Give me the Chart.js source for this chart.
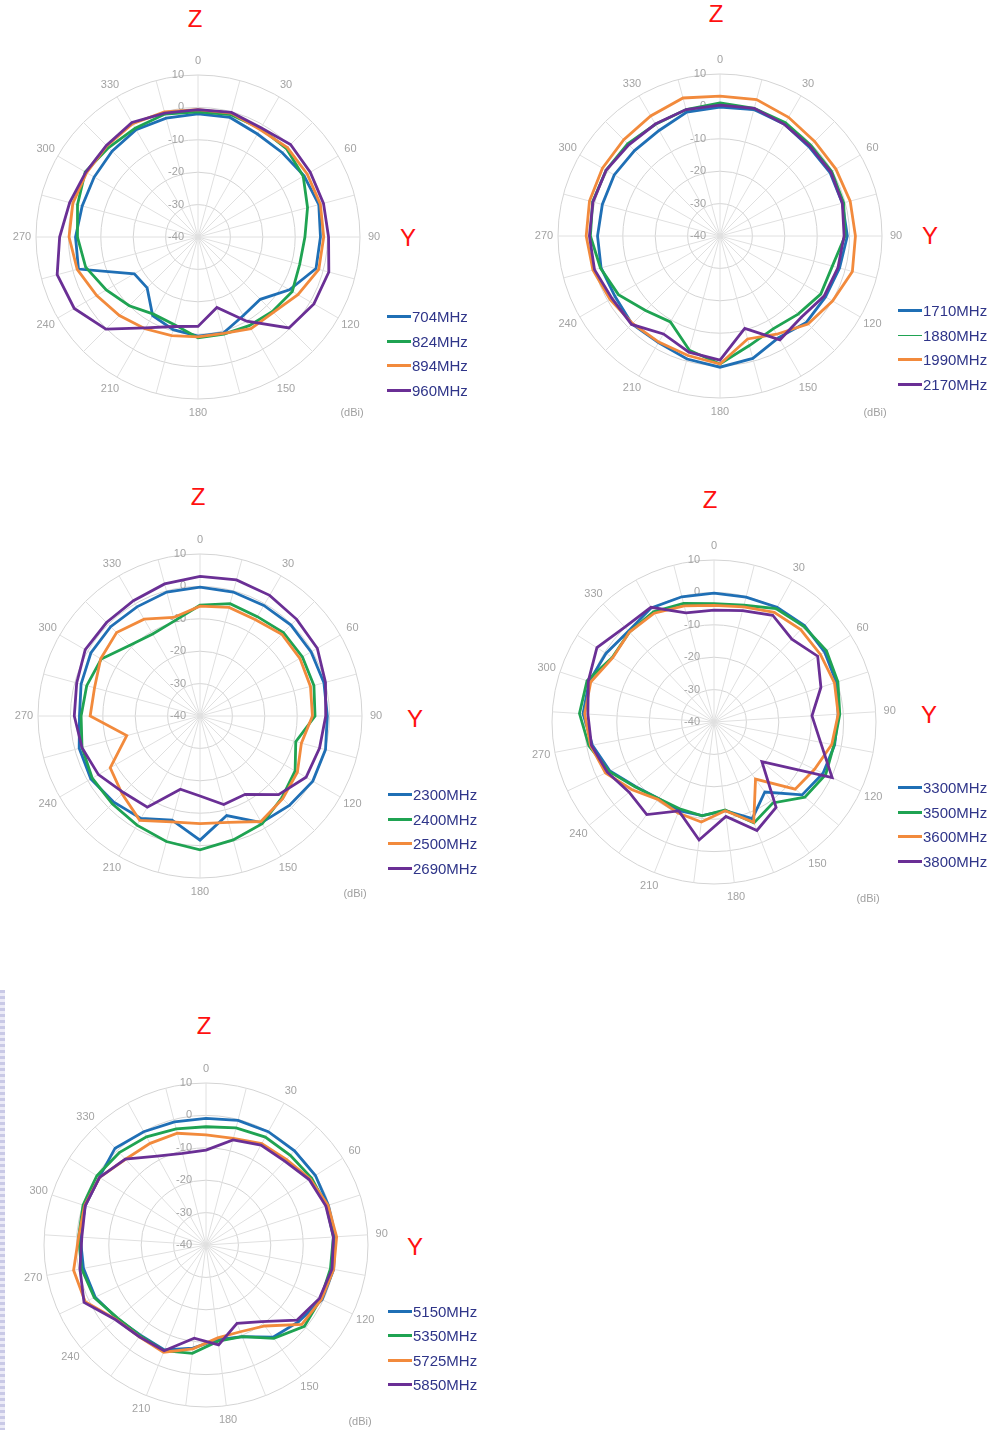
<!DOCTYPE html>
<html>
<head>
<meta charset="utf-8">
<title>Radiation patterns</title>
<script src="https://cdn.jsdelivr.net/npm/chart.js@4.4.1/dist/chart.umd.min.js"></script>
<style>
  body { margin: 0; background: #fff; font-family: Arial, "Liberation Sans", sans-serif; }
  #page { position: relative; width: 998px; height: 1430px; overflow: hidden; background: #fff; }
  canvas.polar { position: absolute; }
  .axis-name { position: absolute; color: #ff1010; font-size: 24px; line-height: 1; transform: translate(-50%, -50%); }
  .unit { position: absolute; color: #a0a0a0; font-size: 11px; transform: translate(-50%, -50%); }
  .legend { position: absolute; }
  .legend-row { height: 24.4px; display: flex; align-items: center; }
  .legend-line { width: 24px; height: 3px; margin-right: 1px; }
  .legend-text { color: #2f3589; font-size: 15px; }
  .edge { position: absolute; left: 0; top: 990px; width: 5px; height: 440px;
          background: repeating-linear-gradient(#c9c9e6 0 3px, #ecebf7 3px 6px); }
</style>
</head>
<body>
<div id="page">
  <div class="edge"></div>
</div>
<script>
// Angle categories, one every 15 degrees
const anglesOpen = ['0','15','30','45','60','75','90','105','120','135','150','165',
                    '180','195','210','225','240','255','270','285','300','315','330','345'];
const anglesClosed = [...anglesOpen, '360'];
const rangeTicks = [10, 0, -10, -20, -30, -40];

// 700-960 MHz (dBi)
const band1Names = ['704MHz', '824MHz', '894MHz', '960MHz'];
const gain704 = [-2, -1.8, -3.3, -3.2, -2.2, -1.4, -2.2, -2.3, -7.4, -12.8, -12, -9.4, -9.4, -10.4, -12, -17.8, -17.3, -1.8, -2.2, -3, -3, -2.5, -1.8, -2];
const gain824 = [-1.4, -0.9, -1.3, -1.4, -2.5, -5, -7, -7.5, -6.4, -7.5, -8.4, -9, -8.9, -12, -12.5, -10, -7.3, -4.1, -2.8, -1.5, 0.2, -1, -1.2, -0.7];
const gain894 = [-0.7, -0.4, -1.7, -1, -1.1, -0.9, -1.2, -1.4, -4.4, -7.1, -7.3, -9.2, -9.2, -8.5, -7.3, -5.7, -3.9, -1.4, -0.2, 0, -0.3, -0.2, 0.4, 0];
const gain960 = [-0.7, -0.2, -1.1, 0.4, 0, 0.1, 0.3, 1.8, 1.3, -0.3, -10, -17.5, -12.4, -11.4, -7.6, 0.2, 4.1, 5, 2.7, 1, 0, 0, 0.8, -0.4];

// 1710-2170 MHz (dBi)
const band2Names = ['1710MHz', '1880MHz', '1990MHz', '2170MHz'];
const gain1710 = [-0.2, 0.4, -0.2, -1.1, -0.8, -0.9, -0.7, -1.8, -2.4, -2.3, -3.8, -0.9, 0.5, -0.7, -2, -1.6, -2.6, -2, -2.2, -2.4, -2.3, -2.7, -2.4, -0.4];
const gain1880 = [1.1, 0.8, 0.4, -0.4, -0.2, -0.5, -1.4, -4.1, -4.1, -5.9, -7, -5, -0.5, -3.5, -9.4, -7.5, -3.8, -1.8, 0, 0.7, 0.6, 0.3, -0.2, 0.4];
const gain1990 = [3.2, 3.6, 2.3, 1.3, 1.3, 1.6, 1.8, 2.3, 0.1, -1.6, -5, -7.1, -0.5, -1.8, -2.2, -1.8, -0.8, 0.6, 1.3, 1.7, 1.9, 2, 2.8, 4.1];
const gain2170 = [0.4, 0.8, -0.2, -0.8, -0.5, -0.9, -1.7, -2.3, -2.9, -4.5, -3, -10.5, -1.7, -2.9, -5.1, -1.4, -1.5, 0.1, 0.3, 0.6, 0.6, -0.2, -0.1, 0.4];

// 2300-2690 MHz (dBi)
const band3Names = ['2300MHz', '2400MHz', '2500MHz', '2690MHz'];
const gain2300 = [-0.2, -0.4, -0.6, -0.3, -0.4, -0.4, -0.7, 0.1, 0.2, -1, -2, -8.2, -1.7, -6.7, -3.5, -2.4, -1.1, -1.4, -2.8, -2, -1.1, -1, -1.1, -0.4];
const gain2400 = [-5.8, -4.1, -4.6, -3.6, -3.5, -3.6, -4.5, -9.4, -6.1, -4.3, -1.6, -0.4, 1.3, 0.1, -1.1, -1.7, -1.6, -2.3, -3.3, -3.8, -4.8, -9.2, -10.8, -9.6];
const gain2500 = [-6.1, -5.3, -5.7, -4.3, -4.4, -4.7, -5.3, -7.6, -5.3, -3.9, -2.4, -6, -6.8, -6.2, -2.8, -6, -8, -16.6, -6.1, -6.3, -4.6, -3.6, -5.5, -8.5];
const gain2690 = [3.1, 3.5, 3, 2.2, 1.8, 0.1, -1.2, -1.8, -2.2, -5.7, -12.1, -11.7, -15.3, -16.6, -7.5, -6.6, -3.8, -2.3, -1.2, -0.6, 0.9, 0.8, 1.1, 2.2];

// 3300-3800 MHz (dBi), 0..360 closed
const band4Names = ['3300MHz', '3500MHz', '3600MHz', '3800MHz'];
const gain3300 = [-0.2, -0.2, 0.4, 0.8, 0.4, -0.3, -1.6, -2.1, -2.8, -4.7, -13.3, -7.9, -12.4, -10.9, -10.6, -10.8, -8.7, -4.5, -1.8, 0.5, 0.5, -0.5, -1.5, 0.2, -0.1];
const gain3500 = [-3.5, -2.8, -0.1, 0.5, 1.1, 0.2, -1.1, -2.3, -1.9, -3.6, -9.1, -6.5, -12.6, -10.8, -11.2, -10.8, -8.5, -4.2, -0.7, 1.6, 1.2, -2.8, -1.9, -1.2, -2.2];
const gain3600 = [-4, -3.3, -1.4, -0.9, -1.1, -0.9, -1.6, -3, -5.7, -7.5, -18.2, -6.7, -12.4, -8.9, -9.8, -10.5, -7.2, -3, -1.2, 0, 0, -3, -1.9, -1.7, -3];
const gain3800 = [-5.5, -4.5, -2.4, -4.9, -2.1, -5.3, -9.7, -6.5, 0.3, -20.8, -7.4, -4, -10.6, -3.3, -10.5, -4.7, -6, -3.6, -1.5, -1, 0.8, 2.8, 0.2, 0.4, -5.2];

// 5150-5850 MHz (dBi), 0..360 closed
const band5Names = ['5150MHz', '5350MHz', '5725MHz', '5850MHz'];
const gain5150 = [-0.9, -0.3, -0.1, -0.1, 0, -0.3, 0, 0.1, -0.4, -2.9, -4.8, -9.6, -10.6, -7.9, -5.2, -5.6, -4.4, -2.2, -1.5, -1.1, -0.8, -1, 1, -0.1, -0.8];
const gain5350 = [-3.5, -2.7, -2, -2, -1.4, -0.9, -0.6, -0.9, -0.9, -0.6, -4.4, -9.6, -10.1, -6.3, -4.9, -5.4, -4.6, -1.9, -0.9, -0.6, -0.1, -0.1, -0.9, -1.9, -3];
const gain5725 = [-6, -6, -4.3, -3.8, -1.9, -0.4, 0.4, 0.1, -0.6, -1.6, -9.1, -11.2, -11.1, -7.7, -4.4, -5, -4, 1.2, 1.6, -0.6, -0.6, -1.1, -3.7, -4.2, -4.4];
const gain5850 = [-10.7, -6.5, -4.8, -4.5, -2.3, -1.1, -0.6, -0.4, -1.3, -3.6, -10.8, -14, -8.9, -11, -4.9, -5, -3.8, 1.6, -0.4, -1.6, -0.8, -1.1, -3.6, -8.7, -10.8];

// Line colours, shared by every plot
const seriesColors = ['#1f6fb5', '#1fa352', '#f28a3c', '#6a2f95'];

// Where each plot sits on the page
const plots = [
  { angles: anglesOpen, names: band1Names, series: [gain704, gain824, gain894, gain960],
    center: [198, 237], z: [195, 19], y: [408, 238], legend: [387, 317], unit: [352, 412] },
  { angles: anglesOpen, names: band2Names, series: [gain1710, gain1880, gain1990, gain2170],
    center: [720, 236], z: [716, 14], y: [930, 236], legend: [898, 311], unit: [875, 412], thinGreen: true },
  { angles: anglesOpen, names: band3Names, series: [gain2300, gain2400, gain2500, gain2690],
    center: [200, 716], z: [198, 497], y: [415, 719], legend: [388, 795], unit: [355, 893] },
  { angles: anglesClosed, names: band4Names, series: [gain3300, gain3500, gain3600, gain3800],
    center: [714, 722], z: [710, 500], y: [929, 715], legend: [898, 788], unit: [868, 898] },
  { angles: anglesClosed, names: band5Names, series: [gain5150, gain5350, gain5725, gain5850],
    center: [206, 1245], z: [204, 1026], y: [415, 1247], legend: [388, 1311.5], unit: [360, 1421] }
];

const RADIUS = 162;
const CANVAS = 400;

// Angle labels every 30 degrees and dB labels left of the 0 degree spoke
const polarText = {
  id: 'polarText',
  beforeDatasetsDraw(chart) {
    const scale = chart.scales.r;
    const ctx = chart.ctx;
    ctx.save();
    ctx.font = '11px Arial, "Liberation Sans", sans-serif';
    ctx.fillStyle = '#a3a3a3';
    ctx.textBaseline = 'middle';
    ctx.textAlign = 'center';
    chart.data.labels.forEach((label, i) => {
      if (Number(label) % 30 !== 0 || label === '360') return;
      const p = scale.getPointPosition(i, scale.drawingArea + 14);
      ctx.fillText(label, p.x, p.y);
    });
    ctx.textAlign = 'right';
    rangeTicks.forEach(v => {
      const d = scale.getDistanceFromCenterForValue(v);
      ctx.fillText(String(v), scale.xCenter - 14, scale.yCenter - d);
    });
    ctx.restore();
  }
};

function addText(cls, text, pos) {
  const el = document.createElement('div');
  el.className = cls;
  el.textContent = text;
  el.style.left = pos[0] + 'px';
  el.style.top = pos[1] + 'px';
  document.getElementById('page').appendChild(el);
}

function addLegend(plot) {
  const box = document.createElement('div');
  box.className = 'legend';
  box.style.left = plot.legend[0] + 'px';
  box.style.top = (plot.legend[1] - 12.2) + 'px';
  plot.names.forEach((name, i) => {
    const row = document.createElement('div');
    row.className = 'legend-row';
    const line = document.createElement('span');
    line.className = 'legend-line';
    line.style.background = seriesColors[i];
    if (plot.thinGreen && i === 1) line.style.height = '1.5px';
    const label = document.createElement('span');
    label.className = 'legend-text';
    label.textContent = name;
    row.appendChild(line);
    row.appendChild(label);
    box.appendChild(row);
  });
  document.getElementById('page').appendChild(box);
}

function drawPlot(plot) {
  const canvas = document.createElement('canvas');
  canvas.className = 'polar';
  canvas.width = CANVAS;
  canvas.height = CANVAS;
  canvas.style.left = (plot.center[0] - CANVAS / 2) + 'px';
  canvas.style.top = (plot.center[1] - CANVAS / 2) + 'px';
  document.getElementById('page').appendChild(canvas);

  new Chart(canvas.getContext('2d'), {
    type: 'radar',
    data: {
      labels: plot.angles,
      datasets: plot.series.map((values, i) => ({
        label: plot.names[i],
        data: values,
        borderColor: seriesColors[i],
        backgroundColor: 'transparent',
        borderWidth: 2.8,
        fill: false,
        pointRadius: 0,
        order: 3 - i
      }))
    },
    options: {
      responsive: false,
      animation: false,
      layout: { padding: CANVAS / 2 - RADIUS },
      plugins: { legend: { display: false }, tooltip: { enabled: false } },
      elements: { line: { tension: 0 } },
      scales: {
        r: {
          min: -40,
          max: 10,
          startAngle: 0,
          ticks: { display: false, stepSize: 10 },
          grid: { circular: true, color: '#d4d4d4', lineWidth: 1 },
          angleLines: { color: '#e0e0e0', lineWidth: 1 },
          pointLabels: { display: false }
        }
      }
    },
    plugins: [polarText]
  });

  addText('axis-name', 'Z', plot.z);
  addText('axis-name', 'Y', plot.y);
  addText('unit', '(dBi)', plot.unit);
  addLegend(plot);
}

window.onload = function() {
  plots.forEach(drawPlot);
};
</script>
</body>
</html>
